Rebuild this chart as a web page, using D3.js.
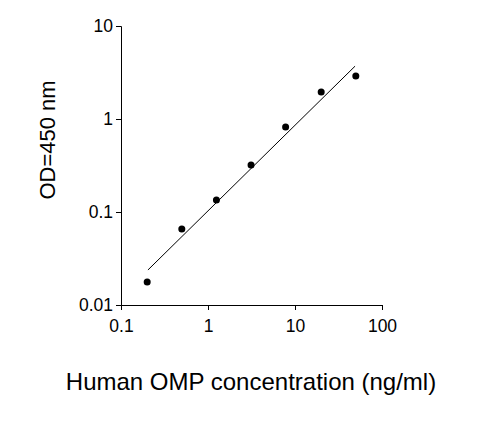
<!DOCTYPE html>
<html><head><meta charset="utf-8">
<script src="https://cdn.jsdelivr.net/npm/d3@7"></script>
<style>body{margin:0;background:#fff}</style></head>
<body><svg id="c" width="487" height="422"></svg>
<script>
const concentrations=[0.2,0.5,1.25,3.125,7.8,20,50];
const odValues=[0.0177,0.0656,0.135,0.32,0.82,1.95,2.9];
const fitX=[0.204,49];
const fitY=[0.0238,3.7];
const xTicks=[0.1,1,10,100];
const yTicks=[0.01,0.1,1,10];
const svg=d3.select("#c");
const x=d3.scaleLog().domain([0.1,100]).range([121,382]);
const y=d3.scaleLog().domain([0.01,10]).range([305,26]);
const fmt=d=>String(d);
const font="Arial, 'Liberation Sans', sans-serif";
const xa=svg.append("g").attr("transform","translate(0,305)").call(d3.axisBottom(x).tickValues(xTicks).tickFormat(fmt).tickSizeOuter(0).tickSize(5));
const ya=svg.append("g").attr("transform","translate(121,0)").call(d3.axisLeft(y).tickValues(yTicks).tickFormat(fmt).tickSizeOuter(0).tickSize(5));
[xa,ya].forEach(a=>{a.selectAll("text").attr("font-family",font).attr("font-size",17.5).attr("fill","#000");a.selectAll("line,path").attr("stroke","#000");});
xa.selectAll("text").attr("dy","1.1em");
svg.append("line").attr("x1",x(fitX[0])).attr("y1",y(fitY[0])).attr("x2",x(fitX[1])).attr("y2",y(fitY[1])).attr("stroke","#000").attr("stroke-width",1);
svg.selectAll("circle").data(concentrations).join("circle").attr("cx",d=>x(d)).attr("cy",(d,i)=>y(odValues[i])).attr("r",3.5).attr("fill","#000");
svg.append("text").attr("x",251).attr("y",390).attr("text-anchor","middle").attr("font-family",font).attr("font-size",24).text("Human OMP concentration (ng/ml)");
svg.append("text").attr("transform","translate(55,140) rotate(-90)").attr("text-anchor","middle").attr("font-family",font).attr("font-size",22).text("OD=450 nm");
</script></body></html>
